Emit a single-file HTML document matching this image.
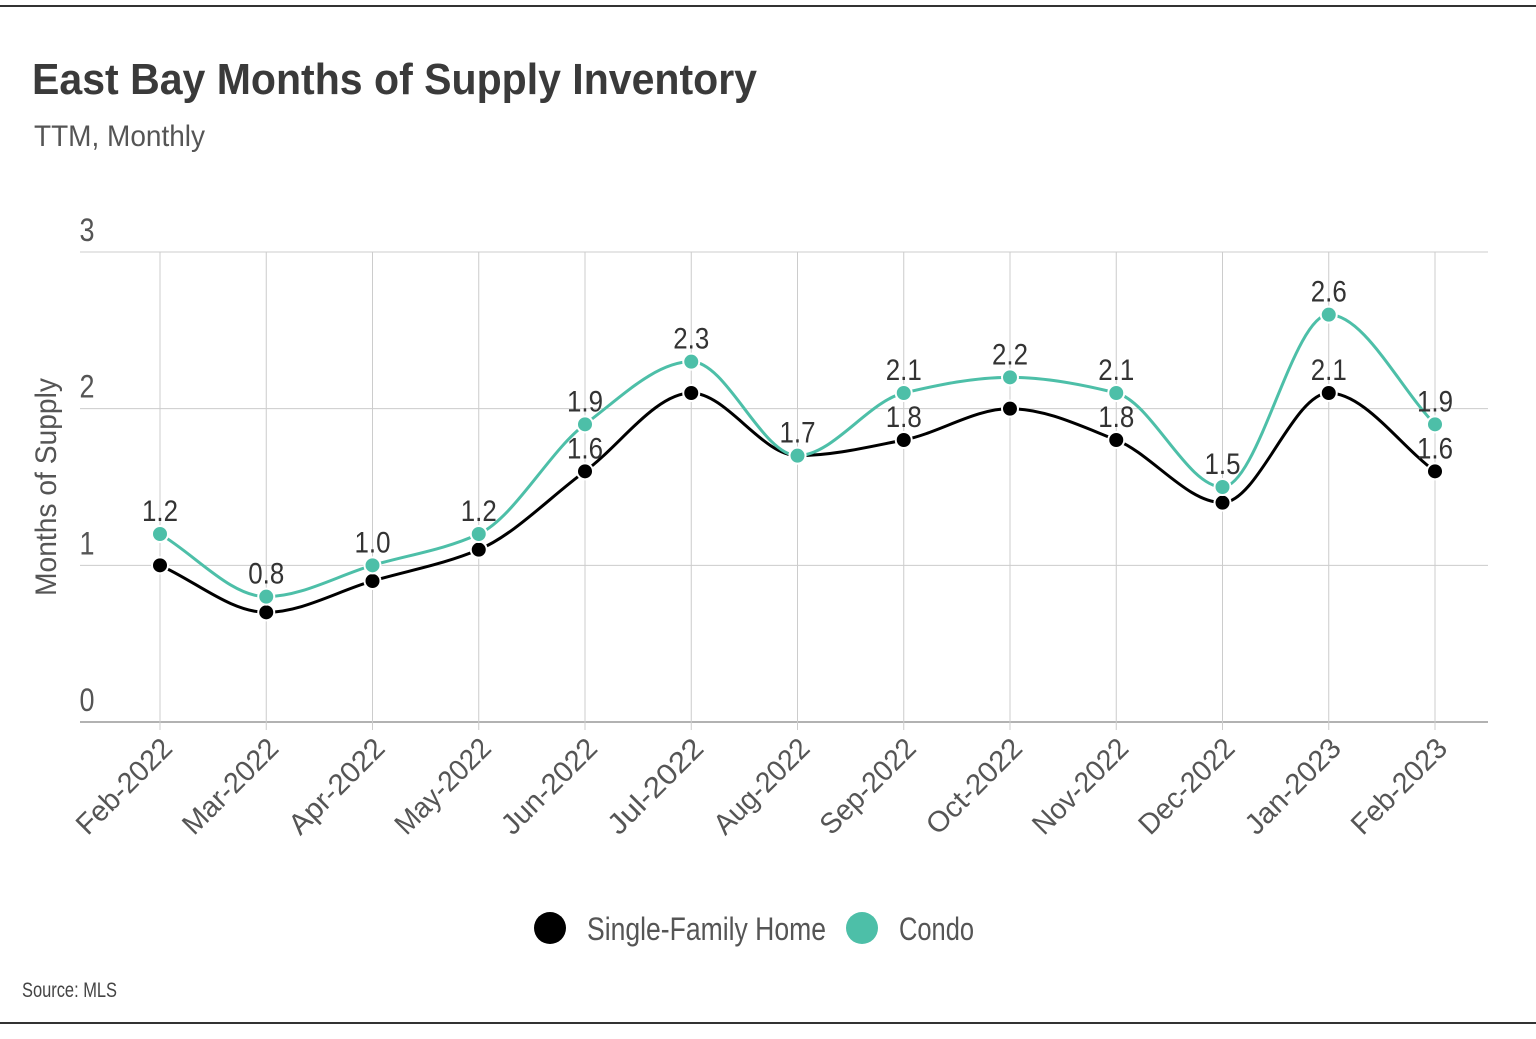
<!DOCTYPE html>
<html><head><meta charset="utf-8"><style>
body{margin:0;background:#fff;width:1536px;height:1034px;overflow:hidden;font-family:"Liberation Sans",sans-serif;}
</style></head><body>
<svg id="c" width="1536" height="1034" xmlns="http://www.w3.org/2000/svg" font-family="'Liberation Sans',sans-serif">
<line x1="0" y1="6" x2="1536" y2="6" stroke="#333" stroke-width="2"/>
<line x1="0" y1="1023" x2="1536" y2="1023" stroke="#333" stroke-width="2"/>
<text x="32" y="94" font-size="44" font-weight="bold" fill="#3a3a3a" textLength="725" lengthAdjust="spacingAndGlyphs">East Bay Months of Supply Inventory</text>
<text x="34" y="146" font-size="30" fill="#555" textLength="171" lengthAdjust="spacingAndGlyphs">TTM, Monthly</text>
<text transform="translate(56,487) rotate(-90)" text-anchor="middle" font-size="30" fill="#555" textLength="218" lengthAdjust="spacingAndGlyphs">Months of Supply</text>
<g id="grid"></g><g id="lines"></g><g id="pts"></g><g id="lbl"></g>
<circle cx="550" cy="928" r="16" fill="#000"/>
<text x="587" y="940" font-size="32" fill="#555" textLength="239" lengthAdjust="spacingAndGlyphs">Single-Family Home</text>
<circle cx="862" cy="928" r="16" fill="#4dbfa8"/>
<text x="899" y="940" font-size="32" fill="#555" textLength="75" lengthAdjust="spacingAndGlyphs">Condo</text>
<text x="22" y="997" font-size="21" fill="#444" textLength="95" lengthAdjust="spacingAndGlyphs">Source:  MLS</text>
</svg>
<script>
const categories=["Feb-2022","Mar-2022","Apr-2022","May-2022","Jun-2022","Jul-2022","Aug-2022","Sep-2022","Oct-2022","Nov-2022","Dec-2022","Jan-2023","Feb-2023"];
const sfh=[1.0,0.7,0.9,1.1,1.6,2.1,1.7,1.8,2.0,1.8,1.4,2.1,1.6];
const condo=[1.2,0.8,1.0,1.2,1.9,2.3,1.7,2.1,2.2,2.1,1.5,2.6,1.9];
const sfhLabeled=[4,7,9,11,12];
const yTicks=[0,1,2,3];
const NS="http://www.w3.org/2000/svg";
const X=i=>160+i*106.25, Y=v=>722-v*156.67;
function mk(p,t,a){const e=document.createElementNS(NS,t);for(const k in a)e.setAttribute(k,a[k]);document.getElementById(p).appendChild(e);return e;}
yTicks.forEach(v=>{
 const l=mk("grid","line",{x1:80,x2:1488,y1:Y(v),y2:Y(v),stroke:v==0?"#999":"#ccc","stroke-width":v==0?1.5:1});
 
 
 const t=mk("grid","text",{x:87,y:Y(v)-11,"text-anchor":"middle","font-size":32,fill:"#555",textLength:15,lengthAdjust:"spacingAndGlyphs"});t.textContent=v;
 
 
});
categories.forEach((c,i)=>{
 const l=mk("grid","line",{x1:X(i),x2:X(i),y1:Y(3),y2:Y(0)+8,stroke:"#ccc"});
 
 
 const t=mk("grid","text",{transform:`translate(${X(i)+14},${Y(0)+28}) rotate(-45)`,"text-anchor":"end","font-size":29,fill:"#555",textLength:122,lengthAdjust:"spacingAndGlyphs"});t.textContent=c;
 
 
});
function path(vals){
 const p=vals.map((v,i)=>[X(i),Y(v)]),n=p.length,d=[],m=[];
 for(let i=0;i<n-1;i++)d.push((p[i+1][1]-p[i][1])/(p[i+1][0]-p[i][0]));
 m[0]=d[0];m[n-1]=d[n-2];
 for(let i=1;i<n-1;i++)m[i]=d[i-1]*d[i]<=0?0:2/(1/d[i-1]+1/d[i]);
 let s=`M${p[0][0]},${p[0][1]}`;
 for(let i=0;i<n-1;i++){const h=(p[i+1][0]-p[i][0])/3;
  s+=`C${p[i][0]+h},${p[i][1]+m[i]*h} ${p[i+1][0]-h},${p[i+1][1]-m[i+1]*h} ${p[i+1][0]},${p[i+1][1]}`;}
 return s;
}
const l1=mk("lines","path",{d:path(sfh),fill:"none",stroke:"#000","stroke-width":3});


const l2=mk("lines","path",{d:path(condo),fill:"none",stroke:"#4dbfa8","stroke-width":3});


sfh.forEach((v,i)=>{
 const c=mk("pts","circle",{cx:X(i),cy:Y(v),r:8,fill:"#000",stroke:"#fff","stroke-width":2});
 
 
});
condo.forEach((v,i)=>{
 const c=mk("pts","circle",{cx:X(i),cy:Y(v),r:8,fill:"#4dbfa8",stroke:"#fff","stroke-width":2});
 
 
 const t=mk("lbl","text",{x:X(i),y:Y(v)-13,"text-anchor":"middle","font-size":30,fill:"#333",textLength:36,lengthAdjust:"spacingAndGlyphs"});t.textContent=v.toFixed(1);
 
 
});
sfhLabeled.forEach(i=>{
 const t=mk("lbl","text",{x:X(i),y:Y(sfh[i])-13,"text-anchor":"middle","font-size":30,fill:"#333",textLength:36,lengthAdjust:"spacingAndGlyphs"});t.textContent=sfh[i].toFixed(1);
 
 
});
</script>
</body></html>
